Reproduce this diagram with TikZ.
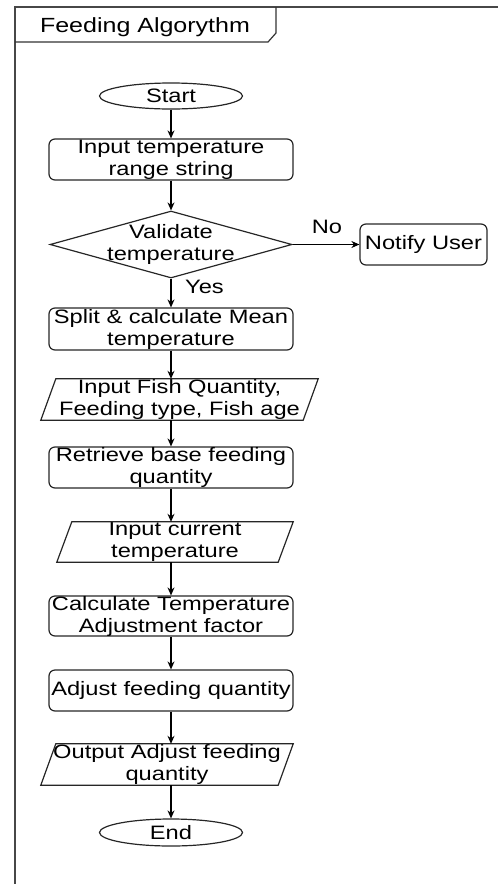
\documentclass[tikz,border=0pt]{standalone}
\usepackage{fontspec}
\setmainfont[FakeStretch=1.22]{Liberation Sans}
\usetikzlibrary{shapes.geometric,arrows.meta,calc}
\newcommand\drawpara[1]{\draw[ln] ([xshift=-7.5pt]#1.south west) -- ([xshift=-7.5pt]#1.south east) -- ([xshift=7.5pt]#1.north east) -- ([xshift=7.5pt]#1.north west) -- cycle;}
\begin{document}
\begin{tikzpicture}[x=1pt,y=-1pt,
  ln/.style={draw=black!85, line width=1.2pt},
  txt/.style={font=\fontsize{19.4}{22}\selectfont, text=black, align=center, inner sep=0pt},
  proc/.style={ln, rectangle, rounded corners=6pt, minimum width=244pt, minimum height=41pt, inner sep=0pt, label={[txt]center:{#1}}},
  term/.style={ln, ellipse, minimum width=143pt, minimum height=26pt, inner sep=0pt, label={[txt]center:{#1}}},
  dec/.style={ln, diamond, minimum width=242pt, minimum height=67pt, inner sep=0pt, label={[txt]center:{#1}}},
  io/.style={rectangle, minimum height=41pt, inner sep=0pt, label={[txt]center:{#1}}},
  arr/.style={draw=black, line width=1.2pt, -{Stealth[length=8pt,width=7pt]}},
  frame/.style={draw=black!72, line width=2.2pt},
  tab/.style={draw=black!80, line width=1.2pt}
]
\useasboundingbox (0,0) rectangle (498,884);
% frame and title tab
\draw[frame] (15,884) -- (15,7) -- (498,7);
\draw[tab] (15,42) -- (268,42) -- (276,33) -- (276,7);
\node[txt, font=\fontsize{20.5}{24}\selectfont, anchor=base] (title) at (145,32) {Feeding Algorythm};
% nodes
\node[term={Start}] (start) at (171,96) {};
\node[proc={Input temperature\\range string}] (inrange) at (171,159.5) {};
\node[dec={Validate\\temperature}] (valid) at (171,244.5) {};
\node[proc={Notify User}, minimum width=127pt] (notify) at (423.5,244.5) {};
\node[proc={Split \& calculate Mean\\temperature}, minimum height=42pt] (split) at (171,329) {};
\node[io={Input Fish Quantity,\\Feeding type, Fish age}, minimum width=262pt] (fish) at (179.5,399.5) {};
\drawpara{fish}
\node[proc={Retrieve base feeding\\quantity}] (base) at (171,467.5) {};
\node[io={Input current\\temperature}, minimum width=221pt, minimum height=40pt] (curtemp) at (175,542) {};
\drawpara{curtemp}
\node[proc={Calculate Temperature\\Adjustment factor}, minimum height=40pt] (factor) at (171,616) {};
\node[proc={Adjust feeding quantity}] (adjust) at (171,690.5) {};
\node[io={Output Adjust feeding\\quantity}, minimum width=237pt] (output) at (167,764.5) {};
\drawpara{output}
\node[term={End}, minimum height=27pt] (end) at (171,832.5) {};
% labels
\node[txt, anchor=base] (nolbl) at (327,233) {No};
\node[txt, anchor=base] (yeslbl) at (204.5,293) {Yes};
% connectors
\draw[arr] (start) -- (inrange);
\draw[arr] (inrange) -- (valid);
\draw[arr] (valid.east) -- (notify.west);
\draw[arr] (valid.south) -- (split.north);
\draw[arr] (split.south) -- (split.south |- fish.north);
\draw[arr] (fish.south -| base.north) -- (base.north);
\draw[arr] (base.south) -- (base.south |- curtemp.north);
\draw[arr] (curtemp.south -| factor.north) -- (factor.north);
\draw[arr] (factor) -- (adjust);
\draw[arr] (adjust.south) -- (adjust.south |- output.north);
\draw[arr] (output.south -| end.north) -- (end.north);
\end{tikzpicture}
\end{document}
